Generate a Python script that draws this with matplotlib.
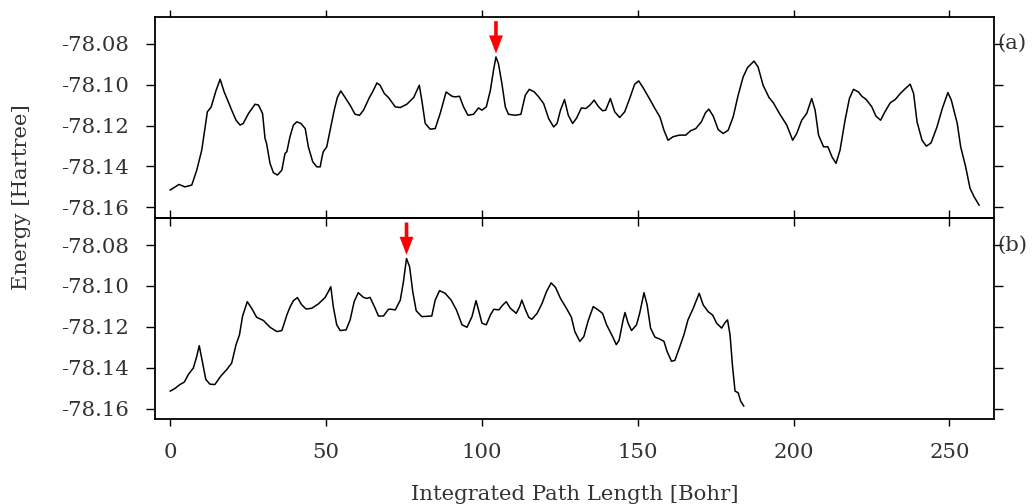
# energy profiles along the two integrated paths, (a) and (b)

import matplotlib
matplotlib.use("Agg")
import matplotlib.pyplot as plt

plt.rcParams["font.family"] = ["DejaVu Serif"]
plt.rcParams["axes.unicode_minus"] = False

# path (a): integrated path length [Bohr], energy [Hartree]
path_a_s = [0, 2.8, 4.7, 6.9, 8.5, 10.1, 11.9, 13.1, 14.7, 16.0, 17.3, 18.4, 19.7, 21.1,
            22.4, 23.4, 25.1, 27.2, 28.3, 29.6, 30.4, 30.9, 32.0, 33.1, 34.4, 35.8, 36.8,
            37.4, 38.4, 39.5, 40.6, 41.9, 43.3, 44.3, 45.7, 47.0, 48.1, 48.7, 49.1, 50.2,
            51.3, 52.6, 53.6, 54.7, 56.1, 57.7, 59.3, 60.7, 62.0, 63.9, 64.9, 66.3, 67.3,
            68.7, 70.0, 72.2, 73.8, 75.9, 78.1, 79.9, 80.7, 81.8, 83.4, 85.0, 86.6, 88.5,
            90.4, 91.4, 92.8, 94.1, 95.5, 97.3, 98.9, 100.0, 101.4, 102.7, 103.8, 104.5,
            105.3, 106.4, 107.5, 108.5, 110.7, 112.5, 113.9, 115.2, 116.8, 118.2, 119.8,
            121.4, 123.0, 124.1, 125.2, 126.5, 127.7, 129.1, 130.4, 131.9, 133.3, 134.6,
            136.0, 137.3, 138.7, 139.7, 141.2, 142.6, 144.2, 145.8, 147.4, 149.0, 150.3,
            151.7, 153.9, 155.5, 157.1, 158.4, 159.7, 161.3, 163.3, 165.4, 166.9, 168.6,
            170.4, 171.7, 172.8, 174.2, 175.8, 177.4, 179.0, 180.6, 182.2, 183.8, 185.2,
            187.3, 188.6, 190.2, 192.1, 193.5, 195.6, 197.8, 199.7, 201.0, 202.6, 204.2,
            205.8, 206.9, 208.0, 209.6, 211.0, 212.3, 213.6, 214.9, 216.5, 217.9, 219.2,
            220.8, 221.9, 223.3, 225.1, 226.4, 227.9, 229.3, 231.0, 232.6, 234.2, 235.8,
            237.4, 238.5, 239.6, 241.2, 242.6, 244.1, 246.0, 247.7, 249.5, 250.6, 252.5,
            253.6, 255.2, 256.6, 257.9, 259.5]
path_a_e = [-78.1515, -78.1488, -78.1500, -78.1491, -78.1418, -78.1320, -78.1133, -78.1110,
            -78.1028, -78.0974, -78.1036, -78.1076, -78.1125, -78.1174, -78.1198, -78.1190,
            -78.1141, -78.1096, -78.1100, -78.1141, -78.1263, -78.1288, -78.1385, -78.1431,
            -78.1442, -78.1418, -78.1337, -78.1328, -78.1255, -78.1198, -78.1182, -78.1190,
            -78.1215, -78.1304, -78.1377, -78.1402, -78.1402, -78.1353, -78.1328, -78.1304,
            -78.1223, -78.1125, -78.1063, -78.1031, -78.1063, -78.1101, -78.1145, -78.1150,
            -78.1125, -78.1063, -78.1036, -78.0992, -78.1003, -78.1044, -78.1063, -78.1109,
            -78.1112, -78.1096, -78.1063, -78.1003, -78.1076, -78.1190, -78.1218, -78.1215,
            -78.1141, -78.1036, -78.1057, -78.1060, -78.1057, -78.1109, -78.1150, -78.1145,
            -78.1114, -78.1125, -78.1109, -78.1028, -78.0922, -78.0865, -78.0898, -78.0995,
            -78.1109, -78.1145, -78.1150, -78.1145, -78.1052, -78.1023, -78.1036, -78.1060,
            -78.1093, -78.1166, -78.1207, -78.1190, -78.1125, -78.1073, -78.1150, -78.1190,
            -78.1163, -78.1114, -78.1117, -78.1101, -78.1076, -78.1106, -78.1128, -78.1125,
            -78.1068, -78.1133, -78.1161, -78.1133, -78.1068, -78.0998, -78.0982, -78.1015,
            -78.1073, -78.1117, -78.1158, -78.1223, -78.1272, -78.1255, -78.1247, -78.1247,
            -78.1226, -78.1215, -78.1182, -78.1138, -78.1120, -78.1154, -78.1220, -78.1239,
            -78.1223, -78.1158, -78.1052, -78.0963, -78.0917, -78.0885, -78.0914, -78.1003,
            -78.1063, -78.1089, -78.1145, -78.1198, -78.1272, -78.1239, -78.1174, -78.1141,
            -78.1068, -78.1125, -78.1247, -78.1304, -78.1304, -78.1353, -78.1385, -78.1320,
            -78.1174, -78.1068, -78.1023, -78.1036, -78.1057, -78.1073, -78.1109, -78.1154,
            -78.1174, -78.1133, -78.1089, -78.1073, -78.1044, -78.1020, -78.0998, -78.1044,
            -78.1182, -78.1272, -78.1301, -78.1285, -78.1207, -78.1117, -78.1039, -78.1076,
            -78.1190, -78.1304, -78.1402, -78.1507, -78.1548, -78.1589]

# path (b)
path_b_s = [0, 1.5, 3.1, 4.5, 5.8, 7.4, 8.5, 9.3, 10.4, 11.4, 12.7, 14.3, 16.2, 18.1, 19.7,
            21.1, 22.2, 23.2, 24.7, 26.1, 27.7, 29.9, 32.0, 34.2, 35.8, 37.4, 38.4, 39.5,
            40.8, 42.2, 43.6, 45.4, 47.5, 49.7, 50.7, 51.5, 52.3, 53.4, 54.5, 56.4, 57.7,
            59.0, 60.3, 62.0, 63.1, 64.1, 65.5, 66.8, 68.4, 70.0, 70.8, 72.2, 73.8, 74.8,
            75.8, 76.8, 77.8, 78.9, 80.7, 83.9, 85.0, 86.4, 88.2, 90.1, 91.8, 93.6, 95.2,
            96.8, 98.1, 98.9, 100.0, 101.4, 102.7, 103.8, 105.4, 106.7, 107.8, 109.1, 111.0,
            112.1, 112.8, 113.9, 115.0, 116.0, 117.7, 119.3, 120.7, 122.2, 123.6, 125.2,
            127.1, 128.7, 129.8, 131.4, 132.7, 134.0, 135.7, 137.0, 138.7, 140.0, 141.9,
            143.1, 144.0, 145.3, 145.9, 146.9, 148.0, 149.6, 150.6, 152.0, 153.0, 154.1,
            155.5, 157.1, 158.4, 159.4, 160.8, 161.9, 163.5, 164.8, 166.1, 167.8, 169.7,
            171.0, 172.6, 174.0, 175.3, 176.9, 178.0, 178.8, 179.6, 180.4, 181.2, 182.2,
            183.0, 184.0]
path_b_e = [-78.1514, -78.1501, -78.1482, -78.1470, -78.1433, -78.1401, -78.1344, -78.1292,
            -78.1377, -78.1457, -78.1480, -78.1482, -78.1441, -78.1409, -78.1377, -78.1287,
            -78.1239, -78.1147, -78.1077, -78.1109, -78.1153, -78.1169, -78.1202, -78.1223,
            -78.1218, -78.1142, -78.1104, -78.1072, -78.1057, -78.1093, -78.1113, -78.1109,
            -78.1088, -78.1056, -78.1028, -78.1004, -78.1101, -78.1190, -78.1218, -78.1215,
            -78.1166, -78.1077, -78.1033, -78.1056, -78.1061, -78.1056, -78.1101, -78.1147,
            -78.1147, -78.1114, -78.1114, -78.1117, -78.1069, -78.0980, -78.0866, -78.0907,
            -78.1028, -78.1121, -78.1150, -78.1147, -78.1069, -78.1023, -78.1036, -78.1069,
            -78.1117, -78.1190, -78.1202, -78.1150, -78.1072, -78.1117, -78.1182, -78.1190,
            -78.1142, -78.1114, -78.1117, -78.1093, -78.1077, -78.1109, -78.1134, -78.1101,
            -78.1069, -78.1114, -78.1153, -78.1163, -78.1134, -78.1085, -78.1028, -78.0985,
            -78.1007, -78.1061, -78.1109, -78.1153, -78.1223, -78.1271, -78.1247, -78.1174,
            -78.1101, -78.1114, -78.1134, -78.1190, -78.1247, -78.1287, -78.1266, -78.1166,
            -78.1130, -78.1182, -78.1218, -78.1190, -78.1134, -78.1033, -78.1093, -78.1206,
            -78.1250, -78.1260, -78.1271, -78.1320, -78.1368, -78.1364, -78.1296, -78.1239,
            -78.1166, -78.1109, -78.1036, -78.1093, -78.1126, -78.1142, -78.1182, -78.1206,
            -78.1179, -78.1166, -78.1239, -78.1393, -78.1514, -78.1522, -78.1563, -78.1587]

panel_labels = ["(a)", "(b)"]
arrow_s = [104.5, 75.8]          # position of the marked maximum on each path
x_ticks = [0, 50, 100, 150, 200, 250]
y_ticks = [-78.16, -78.14, -78.12, -78.10, -78.08]

text_col = "#333333"
fs = 15.3

fig = plt.figure(figsize=(10.32, 5.04), dpi=100)
ax_a = fig.add_axes([0.1502, 0.5675, 0.813, 0.3994])
ax_b = fig.add_axes([0.1502, 0.1680, 0.813, 0.3994])

for ax, s, e, lab, xa in zip([ax_a, ax_b], [path_a_s, path_b_s], [path_a_e, path_b_e],
                             panel_labels, arrow_s):
    ax.plot(s, e, color="black", lw=1.1)
    ax.set_xlim(-4.9, 264.3)
    ax.set_ylim(-78.1652, -78.0668)
    ax.set_xticks(x_ticks)
    ax.set_yticks(y_ticks)
    ax.set_yticklabels([f"{v:.2f}" for v in y_ticks])
    ax.tick_params(axis="y", which="both", direction="out", left=True, right=True,
                   length=6.5, width=1.0, pad=12.5, labelsize=fs, labelcolor=text_col)
    for sp in ax.spines.values():
        sp.set_linewidth(1.3)

    # red arrow pointing at the peak
    ax.annotate("", xy=(xa, -78.0848), xytext=(xa, -78.0690),
                arrowprops=dict(arrowstyle="simple,head_width=1.0,head_length=1.3,tail_width=0.26",
                                mutation_scale=10, color="red", lw=0,
                                shrinkA=0, shrinkB=0))

    # panel label placed like a right-hand tick label
    ax.text(1.004, -78.08, lab, transform=ax.get_yaxis_transform(), ha="left",
            va="center", fontsize=fs, color=text_col, clip_on=False)

# top panel: outward ticks on top, none at bottom
ax_a.tick_params(axis="x", direction="out", top=True, bottom=False, labelbottom=False,
                 length=5, width=1.0)

# bottom panel: outward ticks at bottom with labels
ax_b.tick_params(axis="x", direction="out", top=False, bottom=True, length=5, width=1.0,
                 pad=12.0, labelsize=fs, labelcolor=text_col)
# ticks crossing the shared edge between the panels
sec = ax_b.secondary_xaxis("top")
sec.set_xticks(x_ticks)
sec.tick_params(axis="x", direction="inout", length=11.5, width=1.0, labeltop=False)
sec.spines["top"].set_linewidth(1.3)

fig.text(0.5567, 1 - 494 / 504, "Integrated Path Length [Bohr]", ha="center",
         va="center", fontsize=fs, color=text_col)
fig.text(0.0205, 1 - 197 / 504, "Energy [Hartree]", ha="center", va="center",
         rotation=90, fontsize=fs, color=text_col)

fig.savefig("out.png", dpi=100)
